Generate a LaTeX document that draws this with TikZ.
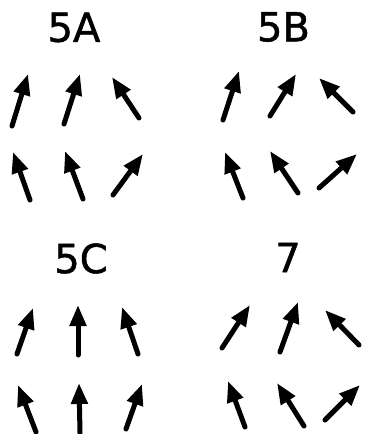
\documentclass[tikz,border=0pt]{standalone}
\usepackage{fontspec}
\newfontfamily\lblfont{DejaVu Sans}[FakeBold=1.2]
\usetikzlibrary{arrows.meta}

\begin{document}
\begin{tikzpicture}[x=1pt, y=-1pt,
    vec/.style={line width=5pt, line cap=round, -{Triangle[length=21pt, width=16pt]}},
    panel/.style={inner sep=0pt, font=\lblfont\fontsize{40}{40}\selectfont}]
        \useasboundingbox (0,0) rectangle (365,434);

        % Panel labels
        \node[panel] (lblA) at (74,27.5) {5A};
        \node[panel] (lblB) at (283.5,27) {5B};
        \node[panel] (lblC) at (81,258.5) {5C};
        \node[panel] (lblD) at (288,257.5) {7};

        % 5A
        \draw[vec] (12,126) -- (28,74);
        \draw[vec] (64,124) -- (80,74);
        \draw[vec] (139,118) -- (112,77);
        \draw[vec] (30,200) -- (13,152);
        \draw[vec] (83,199) -- (65,151);
        \draw[vec] (113,195) -- (143,154);

        % 5B
        \draw[vec] (223,120) -- (239,71);
        \draw[vec] (270,116) -- (296,74);
        \draw[vec] (353,112) -- (319,78);
        \draw[vec] (243,198) -- (225,152);
        \draw[vec] (298,193) -- (270,151);
        \draw[vec] (319,188) -- (357,154);

        % 5C
        \draw[vec] (17,354) -- (33,308);
        \draw[vec] (78,355) -- (78,305);
        \draw[vec] (138,354) -- (122,307);
        \draw[vec] (36,432) -- (18,385);
        \draw[vec] (80,433) -- (79,383);
        \draw[vec] (126,429) -- (142,384);

        % 7
        \draw[vec] (222,348) -- (250,305);
        \draw[vec] (280,352) -- (298,302);
        \draw[vec] (359,345) -- (325,310);
        \draw[vec] (245,427) -- (228,381);
        \draw[vec] (304,426) -- (277,383);
        \draw[vec] (325,420) -- (360,385);
\end{tikzpicture}
\end{document}
